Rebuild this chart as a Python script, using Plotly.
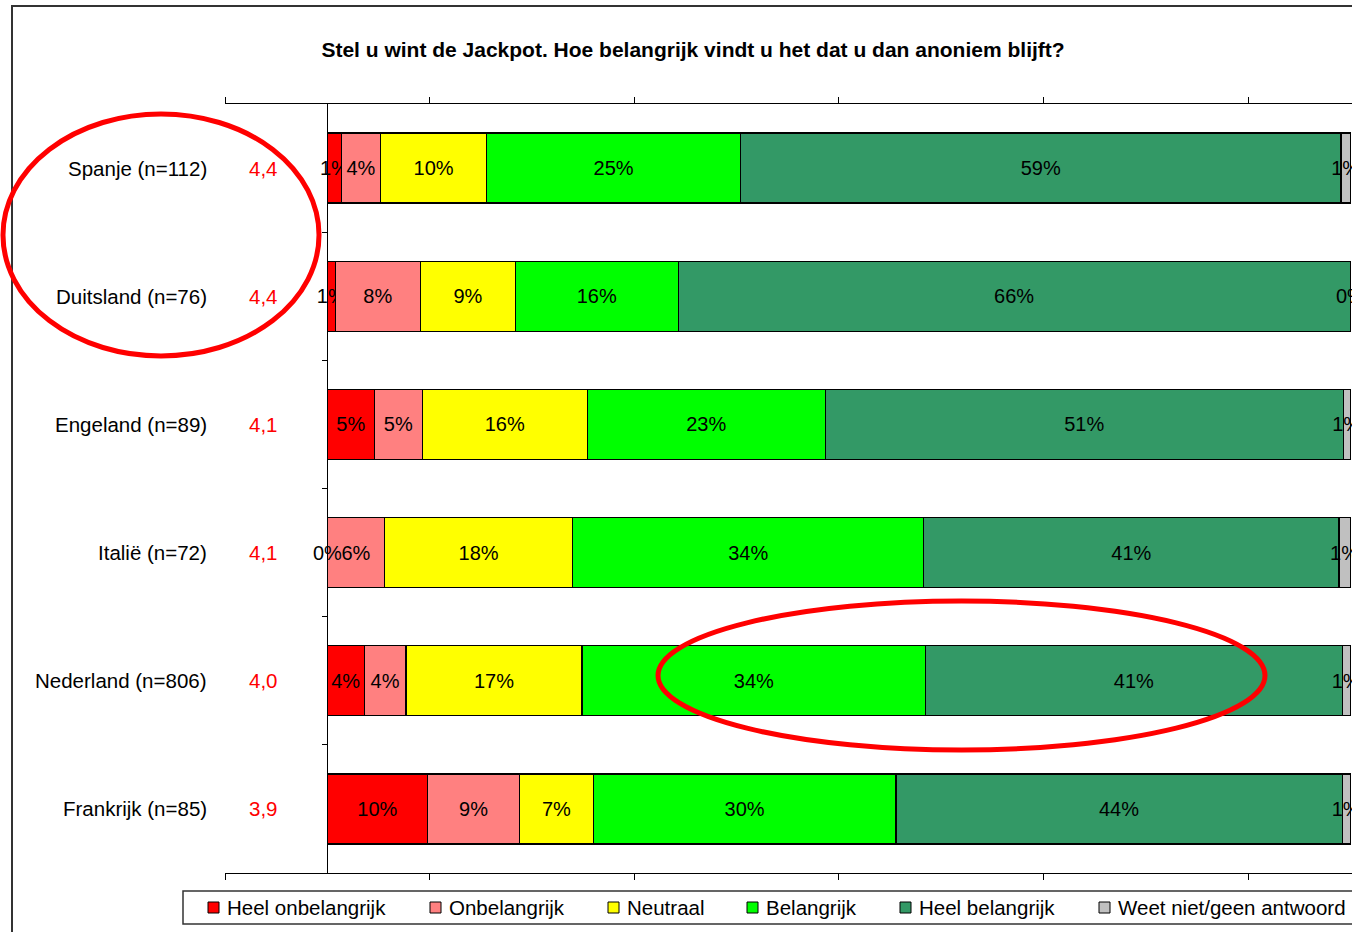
import plotly.graph_objects as go

# ---------------- data ----------------
categories = ["Spanje (n=112)", "Duitsland (n=76)", "Engeland (n=89)",
              "Italië (n=72)", "Nederland (n=806)", "Frankrijk (n=85)"]
scores = ["4,4", "4,4", "4,1", "4,1", "4,0", "3,9"]

series_names = ["Heel onbelangrijk", "Onbelangrijk", "Neutraal",
                "Belangrijk", "Heel belangrijk", "Weet niet/geen antwoord"]

heel_onbelangrijk = [1.4, 0.8, 4.6, 0.0, 3.6, 9.8]
onbelangrijk = [3.8, 8.3, 4.7, 5.6, 4.1, 9.0]
neutraal = [10.4, 9.3, 16.1, 18.4, 17.2, 7.2]
belangrijk = [24.8, 15.9, 23.3, 34.3, 33.6, 29.6]
heel_belangrijk = [58.7, 65.7, 50.6, 40.6, 40.7, 43.6]
weet_niet = [0.9, 0.0, 0.7, 1.1, 0.8, 0.8]

series_values = [heel_onbelangrijk, onbelangrijk, neutraal,
                 belangrijk, heel_belangrijk, weet_niet]
colors = ["#FF0000", "#FF8080", "#FFFF00", "#00FF00", "#339966", "#C0C0C0"]

# ---------------- layout constants (pixels) ----------------
W, H = 1352, 932
ML, MR, MT, MB = 225, 0, 104, 59
PW, PH = W - ML - MR, H - MT - MB
XMIN = -0.1
PX_PER_UNIT = 1023.0
XMAX = XMIN + PW / PX_PER_UNIT
legend_square_px = [208, 430, 608, 747, 900, 1099]


def px_x(px):
    return (px - ML) / PW


def px_y(py):
    return (H - MB - py) / PH


FONT = "Arial, 'Liberation Sans', sans-serif"
ypos = list(range(len(categories)))

fig = go.Figure()
for name, vals, col in zip(series_names, series_values, colors):
    fig.add_trace(go.Bar(
        name=name, orientation="h", y=ypos, x=[v / 100 for v in vals],
        width=0.546,
        marker=dict(color=col, line=dict(color="#000000", width=1.2)),
        text=[f"{v:.0f}%" for v in vals],
        textposition="inside", insidetextanchor="middle", textangle=0,
        constraintext="none",
        insidetextfont=dict(color="#000000", size=20, family=FONT),
        hoverinfo="skip", showlegend=False,
    ))

annotations = []
# zero-value segment labels (plotly hides text of zero-width bars)
for i in range(len(categories)):
    cum = 0.0
    for vals in series_values:
        v = vals[i]
        if v == 0:
            annotations.append(dict(x=(cum + v / 2) / 100, y=i, xref="x", yref="y",
                                    text="0%", showarrow=False,
                                    font=dict(size=20, color="#000000", family=FONT)))
        cum += v

for i, (cat, sc) in enumerate(zip(categories, scores)):
    annotations.append(dict(x=px_x(209), y=i, xref="paper", yref="y", text=cat,
                            xanchor="right", showarrow=False,
                            font=dict(size=20.5, color="#000000", family=FONT)))
    annotations.append(dict(x=px_x(263), y=i, xref="paper", yref="y", text=sc,
                            xanchor="center", showarrow=False,
                            font=dict(size=20.5, color="#FF0000", family=FONT)))

shapes = [
    # outer frame
    dict(type="rect", xref="paper", yref="paper",
         x0=px_x(12), x1=px_x(1400), y0=px_y(980), y1=px_y(6),
         line=dict(color="#333333", width=2), fillcolor="rgba(0,0,0,0)", layer="below"),
    # legend box
    dict(type="rect", xref="paper", yref="paper",
         x0=px_x(183), x1=px_x(1400), y0=px_y(924), y1=px_y(891),
         line=dict(color="#333333", width=1.5), fillcolor="white"),
]

# legend (built from the series names and colours)
for name, col, sx in zip(series_names, colors, legend_square_px):
    shapes.append(dict(type="rect", xref="paper", yref="paper",
                       x0=px_x(sx), x1=px_x(sx + 11), y0=px_y(913), y1=px_y(902),
                       line=dict(color="#000000", width=1), fillcolor=col))
    annotations.append(dict(x=px_x(sx + 17), y=px_y(907.5), xref="paper", yref="paper",
                            text=name, xanchor="left", yanchor="middle", showarrow=False,
                            font=dict(size=20.5, color="#000000", family=FONT)))

# red highlight ellipses
shapes += [
    dict(type="circle", xref="paper", yref="paper",
         x0=px_x(3), x1=px_x(319), y0=px_y(356), y1=px_y(114),
         line=dict(color="#FF0000", width=5)),
    dict(type="circle", xref="paper", yref="paper",
         x0=px_x(658), x1=px_x(1265), y0=px_y(750), y1=px_y(601),
         line=dict(color="#FF0000", width=5)),
]

tickvals = [-0.1, 0.1, 0.3, 0.5, 0.7, 0.9]

fig.update_layout(
    width=W, height=H, autosize=False,
    margin=dict(l=ML, r=MR, t=MT, b=MB, pad=0),
    paper_bgcolor="white", plot_bgcolor="white",
    barmode="stack", bargap=0,
    font=dict(family=FONT, color="#000000"),
    title=dict(text="<b>Stel u wint de Jackpot. Hoe belangrijk vindt u het dat u dan anoniem blijft?</b>",
               x=693 / W, xref="container", xanchor="center",
               y=1 - 50 / H, yref="container", yanchor="middle",
               font=dict(size=21, family=FONT, color="#000000")),
    xaxis=dict(range=[XMIN, XMAX], showgrid=False, zeroline=False,
               showline=True, linecolor="#000000", linewidth=1, mirror="ticks",
               ticks="outside", ticklen=6, tickcolor="#000000", tickwidth=1,
               tickvals=tickvals, showticklabels=False, fixedrange=True),
    xaxis2=dict(range=[XMIN, XMAX], overlaying="x", anchor="y", side="bottom",
                showgrid=False, zeroline=False, showline=False,
                ticks="inside", ticklen=6, tickcolor="#000000", tickwidth=1,
                tickvals=tickvals, showticklabels=False),
    yaxis=dict(range=[len(categories) - 0.5, -0.5], showgrid=False, zeroline=False,
               anchor="free", position=px_x(327),
               showline=True, linecolor="#000000", linewidth=1,
               ticks="outside", ticklen=5, tickcolor="#000000",
               tickvals=[0.5, 1.5, 2.5, 3.5, 4.5], showticklabels=False),
    showlegend=False,
    annotations=annotations,
    shapes=shapes,
)

fig.write_html(
    "out.html",
    config={"displayModeBar": False, "staticPlot": True},
    post_script="document.body.style.margin='0';"
                "document.documentElement.style.overflow='hidden';"
                "document.body.style.overflow='hidden';",
)
